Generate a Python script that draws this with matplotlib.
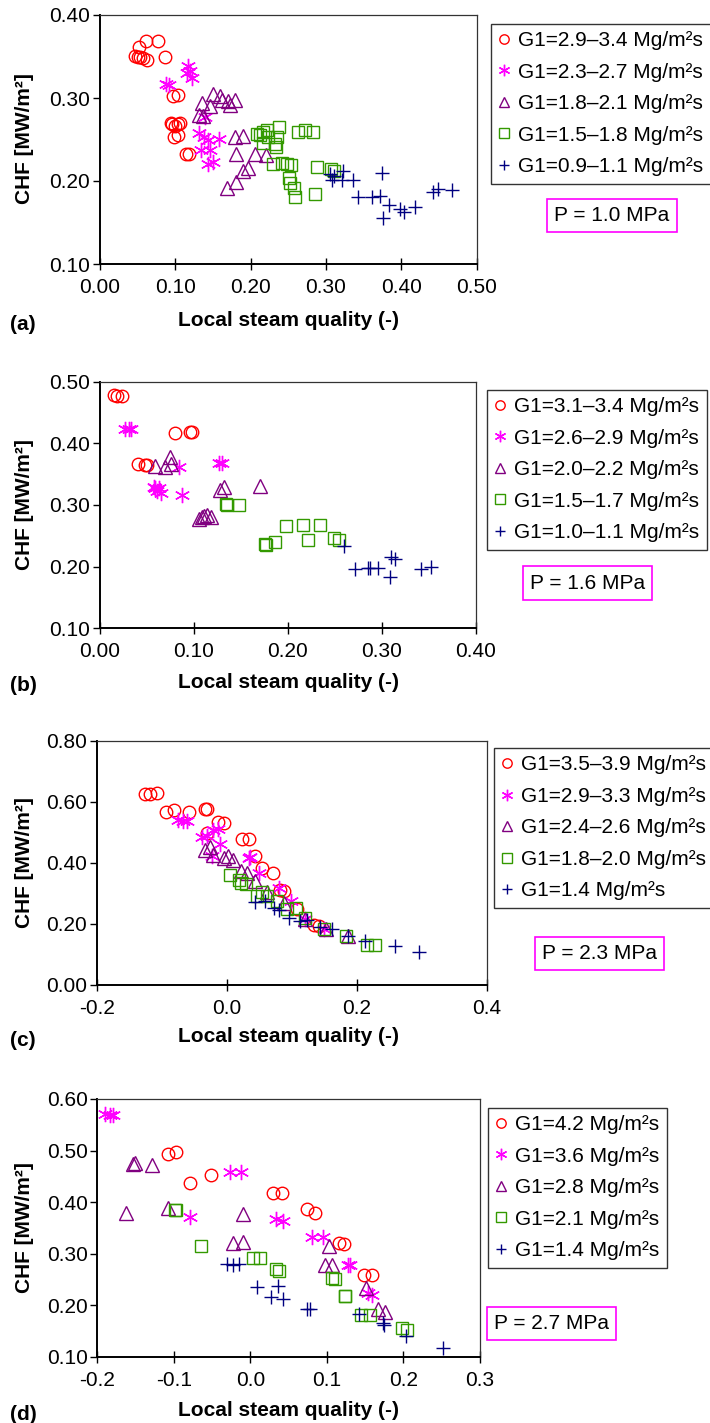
import matplotlib
matplotlib.use('Agg')
import matplotlib.pyplot as plt
from matplotlib.ticker import FormatStrFormatter

plt.rcParams['font.family'] = ['Liberation Sans', 'DejaVu Sans']
plt.rcParams['axes.unicode_minus'] = False

W, H = 710, 1423

# ---------- panel (a), P = 1.0 MPa ----------
a_labels = ['G1=2.9–3.4 Mg/m²s', 'G1=2.3–2.7 Mg/m²s', 'G1=1.8–2.1 Mg/m²s',
            'G1=1.5–1.8 Mg/m²s', 'G1=0.9–1.1 Mg/m²s']
a_circ_x = [0.046, 0.050, 0.053, 0.057, 0.063, 0.052, 0.061, 0.077, 0.086, 0.097, 0.103,
            0.094, 0.096, 0.104, 0.106, 0.100, 0.098, 0.104, 0.114, 0.118]
a_circ_y = [0.351, 0.349, 0.350, 0.348, 0.346, 0.362, 0.369, 0.369, 0.350, 0.302, 0.304,
            0.270, 0.269, 0.269, 0.270, 0.266, 0.253, 0.255, 0.232, 0.232]
a_star_x = [0.087, 0.091, 0.117, 0.119, 0.122, 0.115, 0.139, 0.132, 0.138, 0.144, 0.158,
            0.134, 0.146, 0.144, 0.150]
a_star_y = [0.317, 0.316, 0.338, 0.332, 0.324, 0.330, 0.277, 0.258, 0.253, 0.249, 0.251,
            0.237, 0.237, 0.221, 0.223]
a_tri_x = [0.131, 0.135, 0.137, 0.146, 0.150, 0.159, 0.162, 0.170, 0.179, 0.173, 0.179,
           0.190, 0.181, 0.206, 0.220, 0.190, 0.196, 0.168, 0.181]
a_tri_y = [0.280, 0.294, 0.278, 0.290, 0.305, 0.302, 0.298, 0.296, 0.298, 0.292, 0.253,
           0.254, 0.233, 0.233, 0.231, 0.212, 0.216, 0.192, 0.199]
a_sq_x = [0.208, 0.212, 0.217, 0.221, 0.216, 0.223, 0.232, 0.234, 0.238, 0.235, 0.263,
          0.272, 0.283, 0.230, 0.241, 0.248, 0.253, 0.251, 0.252, 0.257, 0.259, 0.288,
          0.285, 0.307, 0.311]
a_sq_y = [0.257, 0.255, 0.259, 0.262, 0.246, 0.253, 0.245, 0.241, 0.265, 0.253, 0.259,
          0.261, 0.259, 0.220, 0.222, 0.221, 0.219, 0.204, 0.197, 0.191, 0.181, 0.217,
          0.184, 0.214, 0.212]
a_plus_x = [0.305, 0.308, 0.310, 0.321, 0.323, 0.336, 0.343, 0.361, 0.372, 0.374, 0.375,
            0.383, 0.398, 0.403, 0.418, 0.442, 0.448, 0.467]
a_plus_y = [0.209, 0.201, 0.206, 0.201, 0.212, 0.201, 0.181, 0.181, 0.182, 0.210, 0.155,
            0.171, 0.166, 0.163, 0.169, 0.187, 0.190, 0.189]

# ---------- panel (b), P = 1.6 MPa ----------
b_labels = ['G1=3.1–3.4 Mg/m²s', 'G1=2.6–2.9 Mg/m²s', 'G1=2.0–2.2 Mg/m²s',
            'G1=1.5–1.7 Mg/m²s', 'G1=1.0–1.1 Mg/m²s']
b_circ_x = [0.015, 0.018, 0.023, 0.040, 0.048, 0.050, 0.080, 0.096, 0.098]
b_circ_y = [0.478, 0.477, 0.477, 0.366, 0.365, 0.365, 0.416, 0.418, 0.418]
b_star_x = [0.027, 0.031, 0.033, 0.057, 0.059, 0.061, 0.065, 0.063, 0.084, 0.087, 0.127, 0.130]
b_star_y = [0.424, 0.424, 0.424, 0.330, 0.327, 0.322, 0.319, 0.327, 0.361, 0.316, 0.368, 0.368]
b_tri_x = [0.059, 0.069, 0.074, 0.076, 0.105, 0.109, 0.111, 0.114, 0.118, 0.128, 0.132, 0.170]
b_tri_y = [0.363, 0.362, 0.378, 0.366, 0.277, 0.281, 0.282, 0.284, 0.281, 0.325, 0.329, 0.331]
b_sq_x = [0.134, 0.135, 0.148, 0.176, 0.177, 0.186, 0.198, 0.216, 0.221, 0.234, 0.249, 0.254]
b_sq_y = [0.302, 0.300, 0.300, 0.237, 0.235, 0.240, 0.266, 0.268, 0.244, 0.268, 0.246, 0.244]
b_plus_x = [0.260, 0.271, 0.285, 0.287, 0.296, 0.309, 0.310, 0.314, 0.342, 0.352]
b_plus_y = [0.234, 0.196, 0.197, 0.197, 0.197, 0.183, 0.216, 0.212, 0.196, 0.200]

# ---------- panel (c), P = 2.3 MPa ----------
c_labels = ['G1=3.5–3.9 Mg/m²s', 'G1=2.9–3.3 Mg/m²s', 'G1=2.4–2.6 Mg/m²s',
            'G1=1.8–2.0 Mg/m²s', 'G1=1.4 Mg/m²s']
c_circ_x = [-0.126, -0.119, -0.107, -0.094, -0.082, -0.058, -0.034, -0.031, -0.030, -0.013,
            -0.004, 0.023, 0.034, 0.044, 0.054, 0.071, 0.081, 0.088, 0.108, 0.134, 0.142]
c_circ_y = [0.626, 0.626, 0.628, 0.565, 0.573, 0.568, 0.577, 0.577, 0.499, 0.535,
            0.530, 0.478, 0.478, 0.421, 0.383, 0.368, 0.312, 0.308, 0.249, 0.197, 0.192]
c_star_x = [-0.075, -0.067, -0.062, -0.039, -0.030, -0.022, -0.014, -0.010, -0.023, 0.034,
            0.036, 0.049, 0.080, 0.098, 0.121, 0.149]
c_star_y = [0.541, 0.538, 0.538, 0.486, 0.488, 0.508, 0.510, 0.462, 0.421, 0.415,
            0.420, 0.368, 0.317, 0.274, 0.216, 0.183]
c_tri_x = [-0.034, -0.026, -0.021, -0.004, 0.001, 0.010, 0.021, 0.031, 0.044, 0.062,
           0.088, 0.120, 0.152, 0.186]
c_tri_y = [0.442, 0.453, 0.426, 0.415, 0.421, 0.408, 0.372, 0.366, 0.339, 0.306,
           0.268, 0.216, 0.183, 0.159]
c_sq_x = [0.005, 0.018, 0.021, 0.030, 0.046, 0.054, 0.062, 0.077, 0.093, 0.107, 0.120,
          0.149, 0.183, 0.215, 0.228]
c_sq_y = [0.361, 0.344, 0.334, 0.331, 0.292, 0.303, 0.290, 0.274, 0.249, 0.252, 0.219,
          0.183, 0.159, 0.131, 0.131]
c_plus_x = [0.044, 0.059, 0.072, 0.080, 0.095, 0.113, 0.124, 0.144, 0.162, 0.186, 0.212,
            0.259, 0.295]
c_plus_y = [0.271, 0.274, 0.252, 0.246, 0.219, 0.208, 0.214, 0.190, 0.183, 0.161, 0.145,
            0.128, 0.107]

# ---------- panel (d), P = 2.7 MPa ----------
d_labels = ['G1=4.2 Mg/m²s', 'G1=3.6 Mg/m²s', 'G1=2.8 Mg/m²s',
            'G1=2.1 Mg/m²s', 'G1=1.4 Mg/m²s']
d_circ_x = [-0.108, -0.097, -0.079, -0.052, 0.030, 0.041, 0.074, 0.084, 0.116, 0.122,
            0.148, 0.159]
d_circ_y = [0.494, 0.498, 0.437, 0.452, 0.417, 0.417, 0.387, 0.378, 0.321, 0.319,
            0.259, 0.259]
d_star_x = [-0.190, -0.183, -0.179, -0.079, -0.027, -0.012, 0.033, 0.043, 0.081, 0.095,
            0.127, 0.130, 0.154, 0.159]
d_star_y = [0.570, 0.568, 0.568, 0.372, 0.458, 0.458, 0.367, 0.364, 0.332, 0.332,
            0.278, 0.278, 0.223, 0.220]
d_tri_x = [-0.162, -0.153, -0.151, -0.128, -0.107, -0.023, -0.010, -0.009, 0.103, 0.098,
           0.107, 0.151, 0.167, 0.176]
d_tri_y = [0.378, 0.474, 0.476, 0.472, 0.388, 0.321, 0.323, 0.377, 0.314, 0.278,
           0.278, 0.233, 0.192, 0.187]
d_sq_x = [-0.099, -0.097, -0.064, 0.003, 0.012, 0.033, 0.037, 0.106, 0.111, 0.123, 0.124,
          0.145, 0.156, 0.198, 0.204]
d_sq_y = [0.385, 0.385, 0.314, 0.291, 0.291, 0.270, 0.267, 0.252, 0.250, 0.217, 0.217,
          0.181, 0.181, 0.155, 0.152]
d_plus_x = [-0.031, -0.023, -0.015, 0.008, 0.036, 0.027, 0.043, 0.074, 0.078, 0.142,
            0.173, 0.175, 0.203, 0.252]
d_plus_y = [0.279, 0.278, 0.279, 0.235, 0.237, 0.215, 0.211, 0.192, 0.192, 0.183,
            0.165, 0.162, 0.140, 0.116]

colors = ['#ff0000', '#ff00ff', '#800080', '#339900', '#000080']
markers = ['o', (6, 2, 0), '^', 's', '+']
sizes = [9, 11, 10, 9, 10]

FS = 15


def px_rect(l, t, r, b):
    return [l / W, 1 - b / H, (r - l) / W, (b - t) / H]


panels = [
    dict(rect=(100, 15, 476.7, 264), xlim=(0, 0.5), ylim=(0.1, 0.4), xstep=0.1, ystep=0.1,
         xfmt='%.2f', labels=a_labels,
         series=[(a_circ_x, a_circ_y), (a_star_x, a_star_y), (a_tri_x, a_tri_y),
                 (a_sq_x, a_sq_y), (a_plus_x, a_plus_y)],
         leg=(491, 24), pbox=(612, 215.5), ptext='P = 1.0 MPa', tag='(a)', ylab_y=139, xlab_y=320),
    dict(rect=(100, 381.7, 476, 628.3), xlim=(0, 0.4), ylim=(0.1, 0.5), xstep=0.1, ystep=0.1,
         xfmt='%.2f', labels=b_labels,
         series=[(b_circ_x, b_circ_y), (b_star_x, b_star_y), (b_tri_x, b_tri_y),
                 (b_sq_x, b_sq_y), (b_plus_x, b_plus_y)],
         leg=(487, 390), pbox=(587.5, 583), ptext='P = 1.6 MPa', tag='(b)', ylab_y=505, xlab_y=682),
    dict(rect=(97, 740.7, 486.7, 985), xlim=(-0.2, 0.4), ylim=(0.0, 0.8), xstep=0.2, ystep=0.2,
         xfmt='%.1f', labels=c_labels,
         series=[(c_circ_x, c_circ_y), (c_star_x, c_star_y), (c_tri_x, c_tri_y),
                 (c_sq_x, c_sq_y), (c_plus_x, c_plus_y)],
         leg=(494, 748), pbox=(599.7, 953.5), ptext='P = 2.3 MPa', tag='(c)', ylab_y=863, xlab_y=1037),
    dict(rect=(97.3, 1099, 480, 1356.7), xlim=(-0.2, 0.3), ylim=(0.1, 0.6), xstep=0.1, ystep=0.1,
         xfmt='%.1f', labels=d_labels,
         series=[(d_circ_x, d_circ_y), (d_star_x, d_star_y), (d_tri_x, d_tri_y),
                 (d_sq_x, d_sq_y), (d_plus_x, d_plus_y)],
         leg=(488, 1108), pbox=(551.4, 1323.4), ptext='P = 2.7 MPa', tag='(d)', ylab_y=1228, xlab_y=1410),
]

fig = plt.figure(figsize=(W / 100, H / 100), dpi=100)

for p in panels:
    ax = fig.add_axes(px_rect(*p['rect']))
    handles = []
    for (xs, ys), c, m, s, lab in zip(p['series'], colors, markers, sizes, p['labels']):
        h, = ax.plot(xs, ys, ls='none', marker=m, ms=s, mfc='none', mec=c, mew=1.0, label=lab)
        handles.append(h)
    ax.set_xlim(*p['xlim'])
    ax.set_ylim(*p['ylim'])
    x0, x1 = p['xlim']
    y0, y1 = p['ylim']
    nx = int(round((x1 - x0) / p['xstep']))
    ny = int(round((y1 - y0) / p['ystep']))
    ax.set_xticks([x0 + i * p['xstep'] for i in range(nx + 1)])
    ax.set_yticks([y0 + i * p['ystep'] for i in range(ny + 1)])
    ax.xaxis.set_major_formatter(FormatStrFormatter(p['xfmt']))
    ax.yaxis.set_major_formatter(FormatStrFormatter('%.2f'))
    ax.tick_params(axis='x', direction='inout', length=8, width=1, labelsize=FS, pad=6)
    ax.tick_params(axis='y', direction='out', length=5, width=1, labelsize=FS, pad=2)
    for side in ['left', 'bottom']:
        ax.spines[side].set_linewidth(1.4)
        ax.spines[side].set_color('black')
    for side in ['top', 'right']:
        ax.spines[side].set_linewidth(0.9)
        ax.spines[side].set_color('#333333')

    lx, ly = p['leg']
    leg = ax.legend(handles=handles, loc='upper left', bbox_to_anchor=(lx / W, 1 - ly / H),
                    bbox_transform=fig.transFigure, fontsize=FS, markerscale=0.75,
                    handlelength=0.55, handletextpad=0.4, labelspacing=0.6, borderpad=0.35,
                    borderaxespad=0, fancybox=False, framealpha=1, edgecolor='#333333')
    leg.get_frame().set_linewidth(1.0)

    px, py = p['pbox']
    fig.text(px / W, 1 - py / H, p['ptext'], fontsize=FS, ha='center', va='center',
             bbox=dict(boxstyle='square,pad=0.35', fc='white', ec='#ff00ff', lw=1.2))

    fig.text(25 / W, 1 - p['ylab_y'] / H, 'CHF [MW/m²]', rotation=90, fontsize=FS,
             fontweight='bold', ha='center', va='center')
    fig.text(288 / W, 1 - p['xlab_y'] / H, 'Local steam quality (-)', fontsize=FS,
             fontweight='bold', ha='center', va='center')
    fig.text(10 / W, 1 - (p['xlab_y'] + 4) / H, p['tag'], fontsize=FS,
             fontweight='bold', ha='left', va='center')

fig.savefig('out.png', dpi=100)
